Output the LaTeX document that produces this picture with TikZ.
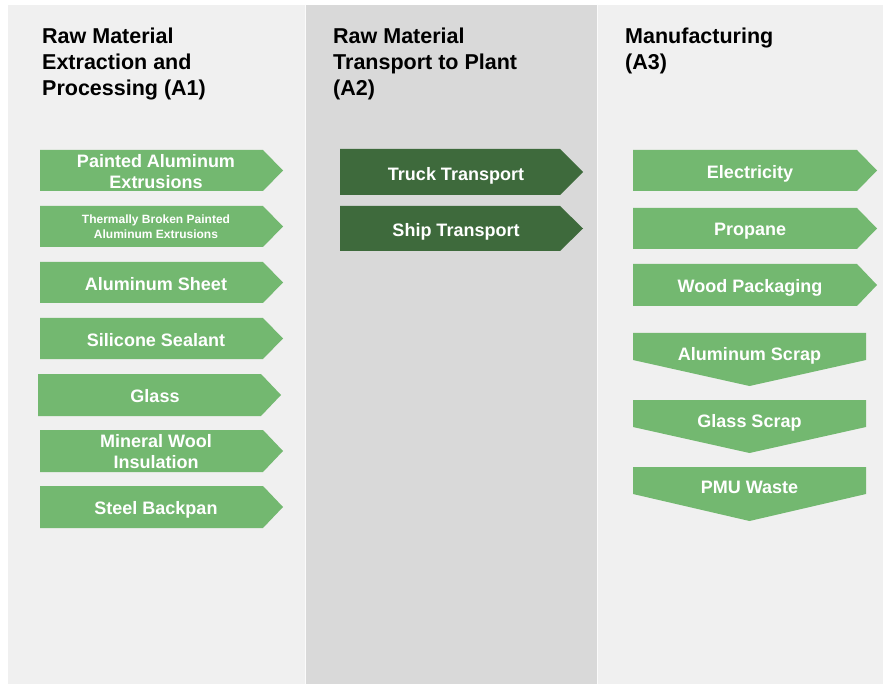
\documentclass[tikz,border=0pt]{standalone}
\usepackage{fontspec}
\setmainfont{Liberation Sans}
\definecolor{panelA}{HTML}{F0F0F0}
\definecolor{panelB}{HTML}{D9D9D9}
\definecolor{gL}{HTML}{73B870}
\definecolor{gD}{HTML}{3E6A3C}
\newcommand\rarrowshape[6]{\fill[#1] (#2,#5) -- (#3,#5) -- (#4,{(#5+#6)/2}) -- (#3,#6) -- (#2,#6) -- cycle;}
\newcommand\darrowshape[6]{\fill[#1] (#2,#4) -- (#3,#4) -- (#3,#5) -- ({(#2+#3)/2},#6) -- (#2,#5) -- cycle;}
\begin{document}
\begin{tikzpicture}[x=1pt,y=-1pt,
  lbl/.style={text=white,font=\fontsize{18}{21}\selectfont\bfseries,align=center,inner sep=0pt,text depth=0pt},
  smalllbl/.style={lbl,font=\fontsize{12}{14.5}\selectfont\bfseries},
  ttl/.style={anchor=north west,align=left,inner sep=0pt,text=black,font=\fontsize{21.5}{26}\selectfont\bfseries}]
\useasboundingbox (0,0) rectangle (883,684);
\fill[white] (0,0) rectangle (883,684);
\fill[panelA] (8,5) rectangle (883,684);
\fill[panelB] (305,5) rectangle (597,684);
\draw[white!90!panelB,line width=0.6pt] (305,5) -- (305,684) (597,5) -- (597,684);
% titles
\node[ttl] (t1) at (42,28) {Raw Material\\Extraction and\\Processing (A1)};
\node[ttl] (t2) at (333,28) {Raw Material\\Transport to Plant\\(A2)};
\node[ttl] (t3) at (625,28) {Manufacturing\\(A3)};
% A1 arrows
\rarrowshape{gL}{40}{263}{283}{150}{191}
\node[lbl] (a1) at (156,171) {Painted Aluminum\\Extrusions};
\rarrowshape{gL}{40}{263}{283}{206}{247}
\node[smalllbl] (a2) at (156,226.5) {Thermally Broken Painted\\Aluminum Extrusions};
\rarrowshape{gL}{40}{263}{283}{262}{303}
\node[lbl] (a3) at (156,284) {Aluminum Sheet};
\rarrowshape{gL}{40}{263}{283}{318}{359}
\node[lbl] (a4) at (156,340) {Silicone Sealant};
\rarrowshape{gL}{38}{261}{281}{374}{416}
\node[lbl] (a5) at (155,396) {Glass};
\rarrowshape{gL}{40}{263}{283}{430}{472}
\node[lbl] (a6) at (156,451.5) {Mineral Wool\\Insulation};
\rarrowshape{gL}{40}{263}{283}{486}{528}
\node[lbl] (a7) at (156,508) {Steel Backpan};
% A2 arrows
\rarrowshape{gD}{340}{560}{583}{149}{195}
\node[lbl] (b1) at (456,174) {Truck Transport};
\rarrowshape{gD}{340}{560}{583}{206}{251}
\node[lbl] (b2) at (456,229.5) {Ship Transport};
% A3 arrows
\rarrowshape{gL}{633}{857}{877}{150}{191}
\node[lbl] (c1) at (750,171.5) {Electricity};
\rarrowshape{gL}{633}{857}{877}{208}{249}
\node[lbl] (c2) at (750,229.5) {Propane};
\rarrowshape{gL}{633}{857}{877}{264}{306}
\node[lbl] (c3) at (750,286) {Wood Packaging};
\darrowshape{gL}{633}{866}{333}{360}{386}
\node[lbl] (d1) at (749.5,354) {Aluminum Scrap};
\darrowshape{gL}{633}{866}{400}{427}{453}
\node[lbl] (d2) at (749.5,420.5) {Glass Scrap};
\darrowshape{gL}{633}{866}{467}{494}{521}
\node[lbl] (d3) at (749.5,487.5) {PMU Waste};
\end{tikzpicture}
\end{document}
